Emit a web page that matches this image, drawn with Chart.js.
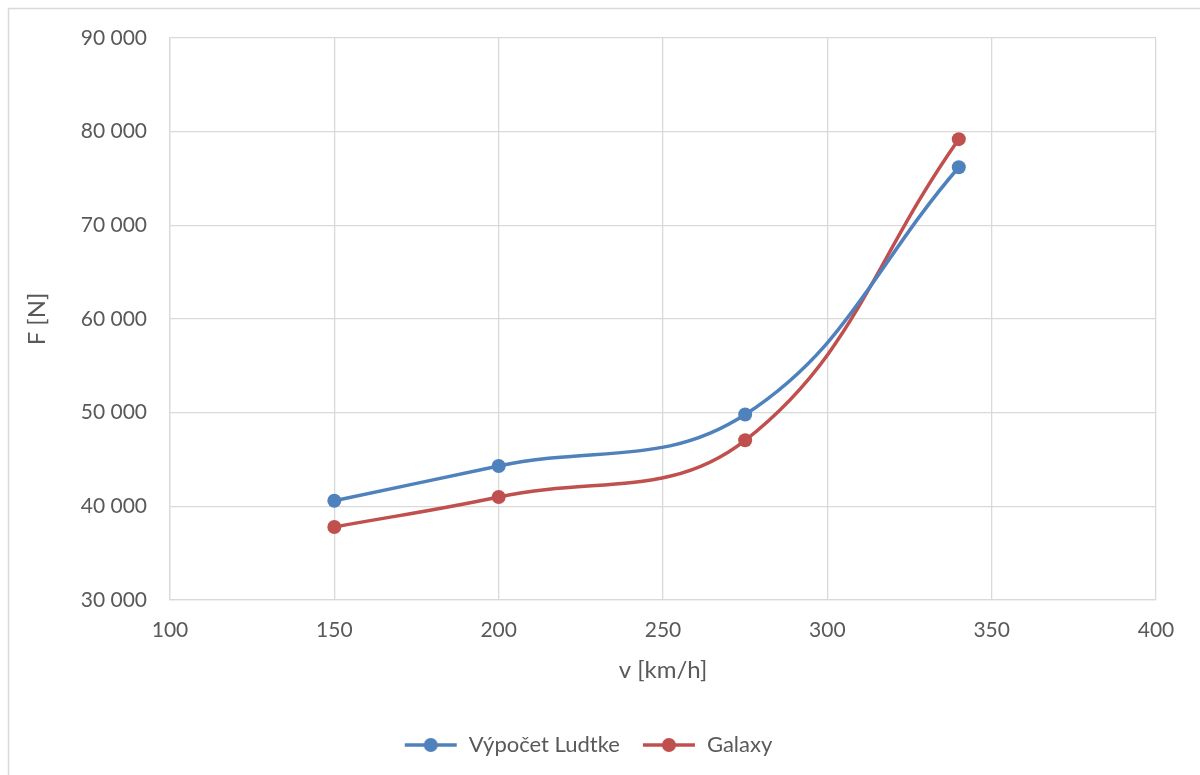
<!DOCTYPE html>
<html>
<head>
<meta charset="utf-8">
<script src="https://cdn.jsdelivr.net/npm/chart.js@4/dist/chart.umd.min.js"></script>
<style>
  html, body { margin: 0; padding: 0; background: #fff; }
  #wrap { width: 1200px; height: 775px; position: relative; }
</style>
</head>
<body>
<div id="wrap"><canvas id="chart"></canvas></div>
<script>
// Data
const speeds = [150, 200, 275, 340];                 // v [km/h]
const ludtke = [40600, 44300, 49800, 76200];         // Výpočet Ludtke, F [N]
const galaxy = [37800, 41000, 47050, 79200];         // Galaxy, F [N]
const seriesNames = ['Výpočet Ludtke', 'Galaxy'];
const xTicks = [100, 150, 200, 250, 300, 350, 400];
const yTicks = [30000, 40000, 50000, 60000, 70000, 80000, 90000];

const COLORS = {
    blue: '#4F81BD',
    red: '#C0504D',
    grid: '#D9D9D9',
    text: '#595959'
};
const FONT = "Lato, 'Open Sans', sans-serif";

// legend marker: line with a dot in the middle
function legendMarker(color) {
    const c = document.createElement('canvas');
    c.width = 54; c.height = 16;
    const g = c.getContext('2d');
    g.strokeStyle = color;
    g.lineWidth = 3.5;
    g.beginPath(); g.moveTo(1, 8); g.lineTo(53, 8); g.stroke();
    g.fillStyle = color;
    g.beginPath(); g.arc(27, 8, 7, 0, Math.PI * 2); g.fill();
    return c;
}

function fmt(v) {
    return String(v).replace(/\B(?=(\d{3})+(?!\d))/g, ' ');
}

// outer frame of the chart object
const framePlugin = {
    id: 'frame',
    beforeDraw(chart) {
        const ctx = chart.ctx;
        ctx.save();
        ctx.fillStyle = '#fff';
        ctx.fillRect(0, 0, chart.width, chart.height);
        ctx.strokeStyle = COLORS.grid;
        ctx.lineWidth = 1.5;
        ctx.strokeRect(8.5, 8.5, 1210, 800);
        ctx.restore();
    }
};

function makeSet(label, data, color) {
    return {
        label: label,
        data: speeds.map((x, i) => ({ x: x, y: data[i] })),
        borderColor: color,
        backgroundColor: color,
        borderWidth: 3.5,
        pointRadius: 7,
        pointHoverRadius: 7,
        pointBorderWidth: 0,
        tension: 0.4,
        fill: false
    };
}

new Chart(document.getElementById('chart'), {
    type: 'line',
    data: {
        datasets: [
            makeSet(seriesNames[0], ludtke, COLORS.blue),
            makeSet(seriesNames[1], galaxy, COLORS.red)
        ]
    },
    options: {
        responsive: true,
        maintainAspectRatio: false,
        animation: false,
        layout: { padding: { left: 20, right: 44, top: 38, bottom: 9 } },
        plugins: {
            legend: {
                position: 'bottom',
                labels: {
                    usePointStyle: true,
                    pointStyleWidth: 54,
                    padding: 22,
                    color: COLORS.text,
                    font: { family: FONT, size: 22 },
                    generateLabels(chart) {
                        return chart.data.datasets.map((ds, i) => ({
                            text: ds.label,
                            pointStyle: legendMarker(ds.borderColor),
                            fillStyle: ds.borderColor,
                            strokeStyle: ds.borderColor,
                            lineWidth: 0,
                            fontColor: COLORS.text,
                            hidden: false,
                            datasetIndex: i
                        }));
                    }
                }
            },
            tooltip: { enabled: false }
        },
        scales: {
            x: {
                type: 'linear',
                min: 100,
                max: 400,
                afterBuildTicks(scale) { scale.ticks = xTicks.map(v => ({ value: v })); },
                afterFit(scale) { scale.height = 112; },
                grid: { color: COLORS.grid, lineWidth: 1.3, drawTicks: false },
                border: { color: COLORS.grid, width: 1.3 },
                ticks: {
                    padding: 18,
                    color: COLORS.text,
                    font: { family: FONT, size: 21 }
                },
                title: {
                    display: true,
                    text: 'v [km/h]',
                    color: COLORS.text,
                    font: { family: FONT, size: 24 },
                    padding: { top: 0, bottom: 27 }
                }
            },
            y: {
                min: 30000,
                max: 90000,
                afterBuildTicks(scale) { scale.ticks = yTicks.map(v => ({ value: v })); },
                afterFit(scale) { scale.width = 150; },
                grid: { color: COLORS.grid, lineWidth: 1.3, drawTicks: false },
                border: { color: COLORS.grid, width: 1.3 },
                ticks: {
                    padding: 23,
                    color: COLORS.text,
                    font: { family: FONT, size: 21 },
                    callback: v => fmt(v)
                },
                title: {
                    display: true,
                    text: 'F [N]',
                    color: COLORS.text,
                    font: { family: FONT, size: 24 },
                    padding: { top: 3, bottom: 0 }
                }
            }
        }
    },
    plugins: [framePlugin]
});
</script>
</body>
</html>
